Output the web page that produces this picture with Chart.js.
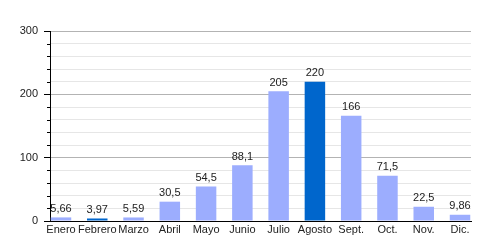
<!DOCTYPE html>
<html>
<head>
<meta charset="utf-8">
<script src="https://cdn.jsdelivr.net/npm/chart.js@4"></script>
<style>
  html, body { margin: 0; padding: 0; background: #fff; }
  #wrap { width: 500px; height: 250px; }
</style>
</head>
<body>
<div id="wrap"><canvas id="barChart" width="500" height="250"></canvas></div>
<script>
const months = ['Enero', 'Febrero', 'Marzo', 'Abril', 'Mayo', 'Junio', 'Julio', 'Agosto', 'Sept.', 'Oct.', 'Nov.', 'Dic.'];
const values = [5.66, 3.97, 5.59, 30.5, 54.5, 88.1, 205, 220, 166, 71.5, 22.5, 9.86];
const highlighted = ['Febrero', 'Agosto'];
const yTicks = [0, 100, 200, 300];

document.addEventListener('DOMContentLoaded', () => {
    const ctx = document.getElementById('barChart').getContext('2d');
    const font = "11px 'Liberation Sans', Arial, sans-serif";

    // value labels above bars + short minor ticks on the y axis
    const extras = {
        id: 'extras',
        afterDatasetsDraw(chart) {
            const c = chart.ctx;
            const meta = chart.getDatasetMeta(0);
            c.save();
            c.font = font;
            c.fillStyle = '#222';
            c.textAlign = 'center';
            c.textBaseline = 'bottom';
            meta.data.forEach((bar, i) => {
                c.fillText(String(values[i]).replace('.', ','), bar.x, bar.y - 3);
            });
            const y = chart.scales.y;
            c.strokeStyle = '#000';
            c.lineWidth = 1;
            for (let v = 20; v < 300; v += 20) {
                if (v % 100 === 0) continue;
                const py = Math.round(y.getPixelForValue(v)) + 0.5;
                c.beginPath();
                c.moveTo(y.right - 3, py);
                c.lineTo(y.right, py);
                c.stroke();
            }
            c.restore();
        }
    };

    new Chart(ctx, {
        type: 'bar',
        data: {
            datasets: [{
                data: values.map((v, i) => ({ x: i, y: v })),
                backgroundColor: months.map(m => highlighted.includes(m) ? '#0066cc' : '#9cadfe'),
                barPercentage: 0.565,
                categoryPercentage: 1
            }]
        },
        options: {
            responsive: false,
            animation: false,
            layout: { padding: { top: 31, right: 29, left: 0, bottom: 0 } },
            plugins: { legend: { display: false }, tooltip: { enabled: false } },
            scales: {
                x: {
                    type: 'linear',
                    offset: false,
                    min: -0.303,
                    max: 11.303,
                    afterBuildTicks: scale => { scale.ticks = months.map((m, i) => ({ value: i })); },
                    afterFit: scale => { scale.height = 29; },
                    grid: { display: false, drawTicks: false },
                    border: { color: '#000', width: 1 },
                    ticks: {
                        autoSkip: false,
                        maxRotation: 0,
                        padding: 2,
                        color: '#222',
                        font: { family: "'Liberation Sans', Arial, sans-serif", size: 11 },
                        callback: v => months[v]
                    }
                },
                y: {
                    min: 0,
                    max: 300,
                    afterBuildTicks: scale => {
                        const t = [];
                        for (let v = 0; v <= 300; v += 20) t.push({ value: v });
                        scale.ticks = t;
                    },
                    afterFit: scale => { scale.width = 50; },
                    grid: {
                        color: c => (c.tick && c.tick.value % 100 === 0) ? '#b3b3b3' : '#e6e6e6',
                        tickColor: c => (c.tick && c.tick.value % 100 === 0) ? '#000' : 'rgba(0,0,0,0)',
                        tickLength: 6
                    },
                    border: { color: '#000', width: 1 },
                    ticks: {
                        autoSkip: false,
                        padding: 6,
                        color: '#222',
                        font: { family: "'Liberation Sans', Arial, sans-serif", size: 11 },
                        callback: v => yTicks.includes(v) ? String(v) : ''
                    }
                }
            }
        },
        plugins: [extras]
    });
});
</script>
</body>
</html>
